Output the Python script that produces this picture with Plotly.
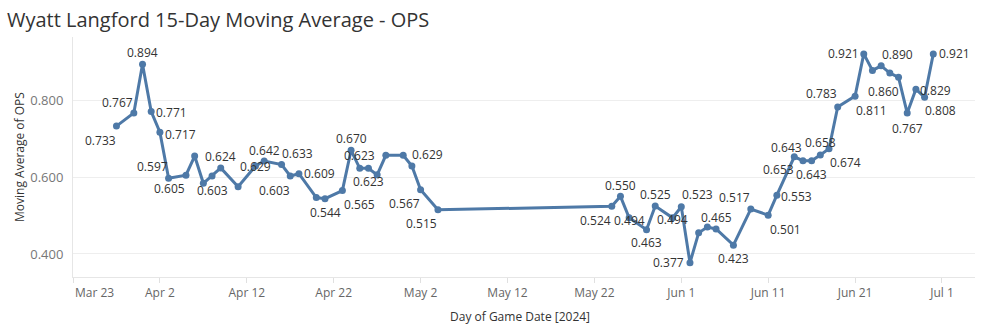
import datetime as dt
import plotly.graph_objects as go

# ---------------- data ----------------
dates = [
    "2024-03-28", "2024-03-30", "2024-03-31", "2024-04-01", "2024-04-02",
    "2024-04-03", "2024-04-05", "2024-04-06", "2024-04-07", "2024-04-08",
    "2024-04-09", "2024-04-11", "2024-04-13", "2024-04-14", "2024-04-16",
    "2024-04-17", "2024-04-18", "2024-04-20", "2024-04-21", "2024-04-23",
    "2024-04-24", "2024-04-25", "2024-04-26", "2024-04-27", "2024-04-28",
    "2024-04-30", "2024-05-01", "2024-05-02", "2024-05-04", "2024-05-24",
    "2024-05-25", "2024-05-26", "2024-05-28", "2024-05-29", "2024-05-31",
    "2024-06-01", "2024-06-02", "2024-06-03", "2024-06-04", "2024-06-05",
    "2024-06-07", "2024-06-09", "2024-06-11", "2024-06-12", "2024-06-14",
    "2024-06-15", "2024-06-16", "2024-06-17", "2024-06-18", "2024-06-19",
    "2024-06-21", "2024-06-22", "2024-06-23", "2024-06-24", "2024-06-25",
    "2024-06-26", "2024-06-27", "2024-06-28", "2024-06-29", "2024-06-30",
]
ops_ma = [
    0.733, 0.767, 0.894, 0.771, 0.717,
    0.597, 0.605, 0.655, 0.584, 0.603,
    0.624, 0.575, 0.629, 0.642, 0.633,
    0.603, 0.609, 0.547, 0.544, 0.565,
    0.670, 0.623, 0.623, 0.606, 0.657,
    0.657, 0.629, 0.567, 0.515, 0.524,
    0.550, 0.494, 0.463, 0.525, 0.494,
    0.523, 0.377, 0.455, 0.470, 0.465,
    0.423, 0.517, 0.501, 0.553, 0.653,
    0.643, 0.643, 0.658, 0.674, 0.783,
    0.811, 0.921, 0.878, 0.890, 0.871,
    0.860, 0.767, 0.829, 0.808, 0.921,
]
x_tick_dates = ["2024-03-23", "2024-04-02", "2024-04-12", "2024-04-22", "2024-05-02",
                "2024-05-12", "2024-05-22", "2024-06-01", "2024-06-11", "2024-06-21",
                "2024-07-01"]
x_tick_labels = ["Mar 23", "Apr 2", "Apr 12", "Apr 22", "May 2", "May 12", "May 22",
                 "Jun 1", "Jun 11", "Jun 21", "Jul 1"]
y_tick_vals = [0.4, 0.6, 0.8]
y_tick_labels = ["0.400", "0.600", "0.800"]

title_text = "Wyatt Langford 15-Day Moving Average - OPS"
x_title = "Day of Game Date [2024]"
y_title = "Moving Average of OPS"

# ---------------- label placement (pixel offsets, dx right, dy down) ----------------
label_offsets = {
    "2024-03-28": (-16, 14), "2024-03-30": (-16, -11), "2024-03-31": (0, -12),
    "2024-04-01": (20, 1), "2024-04-02": (21, 2), "2024-04-03": (-16, -12),
    "2024-04-05": (-16, 13), "2024-04-08": (0, 14), "2024-04-09": (0, -11),
    "2024-04-13": (0, 0), "2024-04-14": (0, -11), "2024-04-16": (16, -11),
    "2024-04-17": (-16, 14), "2024-04-18": (21, 0), "2024-04-21": (0, 14),
    "2024-04-23": (17, 14), "2024-04-24": (0, -12), "2024-04-25": (0, -13),
    "2024-04-26": (0, 13), "2024-05-01": (16, -12), "2024-05-02": (-16, 14),
    "2024-05-04": (-16, 14), "2024-05-24": (-16, 14), "2024-05-25": (0, -11),
    "2024-05-26": (0, 3), "2024-05-28": (0, 13), "2024-05-29": (0, -11),
    "2024-05-31": (0, 2), "2024-06-01": (16, -12), "2024-06-02": (-21, 0),
    "2024-06-05": (0, -12), "2024-06-07": (0, 13), "2024-06-09": (-16, -12),
    "2024-06-11": (17, 14), "2024-06-12": (20, 1), "2024-06-14": (-16, 13),
    "2024-06-15": (-16, -13), "2024-06-16": (0, 14), "2024-06-17": (0, -12),
    "2024-06-18": (16, 14), "2024-06-19": (-16, -13), "2024-06-21": (16, 14),
    "2024-06-22": (-20, 0), "2024-06-24": (16, -11), "2024-06-26": (-15, 14),
    "2024-06-27": (0, 15), "2024-06-28": (20, 1), "2024-06-29": (16, 13),
    "2024-06-30": (21, 0),
}

LINE_COLOR = "#4e79a7"
FONT = "Open Sans"

fig = go.Figure()
fig.add_trace(go.Scatter(
    x=dates, y=ops_ma, mode="lines+markers",
    line=dict(color=LINE_COLOR, width=3),
    marker=dict(color=LINE_COLOR, size=7),
    hoverinfo="x+y", showlegend=False,
))

annotations = []
for d, v in zip(dates, ops_ma):
    if d in label_offsets:
        dx, dy = label_offsets[d]
        annotations.append(dict(
            x=d, y=v, xref="x", yref="y", text=f"{v:.3f}", showarrow=False,
            xshift=dx, yshift=-dy, xanchor="center", yanchor="middle",
            font=dict(family=FONT, size=12, color="#333333"),
        ))

# first tick label is left-aligned at the axis start (as in Tableau)
annotations.append(dict(
    x=x_tick_dates[0], y=-0.065, xref="x", yref="paper", text=x_tick_labels[0],
    showarrow=False, xanchor="left", yanchor="middle",
    font=dict(family=FONT, size=12, color="#666666"),
))
annotations.append(dict(
    x=0.4956, y=-0.1625, xref="paper", yref="paper", text=x_title, showarrow=False,
    xanchor="center", yanchor="middle", font=dict(family=FONT, size=12, color="#333333"),
))
annotations.append(dict(
    x=-0.0599, y=0.5, xref="paper", yref="paper", text=y_title, showarrow=False,
    textangle=-90, xanchor="center", yanchor="middle",
    font=dict(family=FONT, size=12, color="#333333"),
))

x_start = dt.datetime(2024, 3, 23)
x_end = x_start + dt.timedelta(days=103.8)

fig.update_layout(
    width=981, height=333,
    margin=dict(l=73, r=6, t=37, b=56),
    paper_bgcolor="white", plot_bgcolor="white",
    title=dict(text=title_text, x=7 / 981, xanchor="left", xref="container",
               y=1 - 20 / 333, yanchor="middle", yref="container",
               font=dict(family=FONT, size=20, color="#333333")),
    annotations=annotations,
    font=dict(family=FONT),
)
fig.update_xaxes(
    range=[x_start, x_end],
    tickvals=x_tick_dates, ticktext=[""] + x_tick_labels[1:],
    ticks="outside", ticklen=5, tickcolor="#e0e0e0",
    tickfont=dict(family=FONT, size=12, color="#666666"),
    showgrid=False, zeroline=False,
    showline=True, linecolor="#e6e6e6", linewidth=1,
)
fig.update_yaxes(
    range=[0.34, 0.965],
    tickvals=y_tick_vals, ticktext=y_tick_labels,
    tickfont=dict(family=FONT, size=13, color="#777777"),
    showgrid=True, gridcolor="#eeeeee", gridwidth=1, zeroline=False,
    showline=True, linecolor="#e6e6e6", linewidth=1, ticks="", ticklabelstandoff=6,
)

fig.write_html("out.html")
